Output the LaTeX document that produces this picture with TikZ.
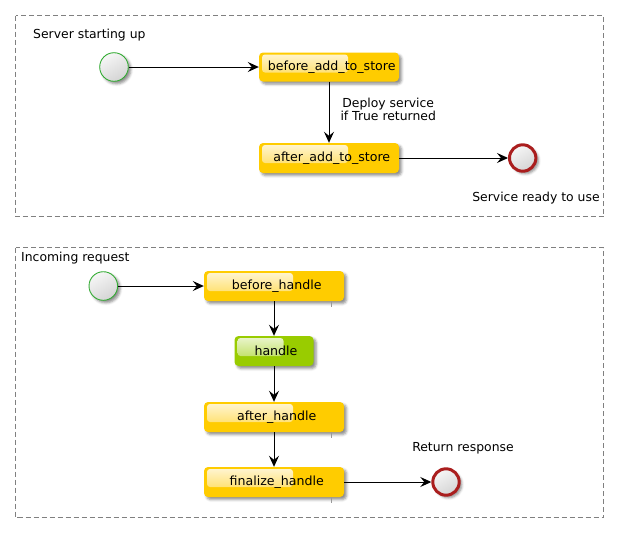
\documentclass[tikz,border=0pt]{standalone}
\usepackage{fontspec}
\setmainfont{DejaVu Sans}
\usetikzlibrary{arrows.meta,shadows.blur}
\definecolor{boxgold}{RGB}{255,204,0}
\definecolor{boxgreen}{RGB}{153,204,0}
\definecolor{startgreen}{RGB}{52,172,52}
\definecolor{endred}{RGB}{170,30,30}
\definecolor{groupgray}{RGB}{128,128,128}
\begin{document}
\begin{tikzpicture}[x=1pt,y=-1pt,
  font=\fontsize{12.4}{13.4}\selectfont,
  grp/.style={draw=groupgray,line width=0.8pt,dash pattern=on 5pt off 3pt},
  sh/.style={blur shadow={shadow xshift=2.5pt,shadow yshift=-2.5pt,shadow blur radius=2.5pt,shadow opacity=45}},
  actbox/.style={rectangle,rounded corners=4pt,fill=boxgold,minimum width=140pt,minimum height=30pt,inner sep=0pt,sh,
     font=\fontsize{12.6}{14}\selectfont,execute at begin node={\hspace*{5.5pt}},
     path picture={\shade[rounded corners=3pt,top color={rgb,255:red,255;green,246;blue,215},bottom color={rgb,255:red,255;green,216;blue,70}]
       ([xshift=3pt,yshift=-2pt]path picture bounding box.north west) rectangle ++(86,18);}},
  greenbox/.style={rectangle,rounded corners=4pt,fill=boxgreen,minimum width=79pt,minimum height=30pt,inner sep=0pt,sh,
     font=\fontsize{12.6}{14}\selectfont,execute at begin node={\hspace*{4pt}},
     path picture={\shade[rounded corners=3pt,top color={rgb,255:red,236;green,246;blue,210},bottom color={rgb,255:red,176;green,216;blue,60}]
       ([xshift=3pt,yshift=-2pt]path picture bounding box.north west) rectangle ++(46,18);}},
  startnode/.style={circle,draw=startgreen,line width=0.9pt,minimum size=28.6pt,inner sep=0pt,sh,
     top color={rgb,255:red,246;green,246;blue,246},bottom color={rgb,255:red,212;green,212;blue,212},shading angle=30},
  endnode/.style={circle,draw=endred,line width=3pt,minimum size=26.4pt,inner sep=0pt,sh,
     top color={rgb,255:red,246;green,246;blue,246},bottom color={rgb,255:red,212;green,212;blue,212},shading angle=30},
  flow/.style={line width=1pt,-{Stealth[length=11pt,width=10pt,inset=4pt]}},
  tick/.style={draw=gray!80,line width=0.8pt}
]
\useasboundingbox (0,0) rectangle (619,533);

% group frames
\draw[grp] (15.5,15.5) rectangle (603.5,216.5);
\draw[grp] (15.5,247.5) rectangle (603.5,517.5);
\node[anchor=base west,inner sep=0pt] (g1label) at (33,38) {Server starting up};
\node[anchor=base west,inner sep=0pt] (g2label) at (21,261.5) {Incoming request};

% group 1
\node[startnode] (s1) at (114,67) {};
\node[actbox,minimum height=29pt] (bas) at (329,67) {before\_add\_to\_store};
\node[actbox] (aas) at (329,158) {after\_add\_to\_store};
\node[endnode] (e1) at (522.7,158) {};
\node[anchor=base,inner sep=0pt] (e1label) at (536,201.7) {Service ready to use};

\draw[flow] (s1) -- (bas);
\draw[flow] (bas) -- node[midway,anchor=west,xshift=11pt,yshift=3pt,align=center,inner sep=0pt,font=\fontsize{12.4}{13.5}\selectfont] (deploy) {Deploy service\\if True returned} (aas);
\draw[flow] (aas) -- (e1);

% group 2
\node[startnode] (s2) at (103.3,286) {};
\node[actbox] (bh) at (274,286) {before\_handle};
\node[greenbox] (h) at (274,351) {handle};
\node[actbox] (ah) at (274,417) {after\_handle};
\node[actbox] (fh) at (274,482) {finalize\_handle};
\node[endnode] (e2) at (446,482) {};
\node[anchor=base,inner sep=0pt] (e2label) at (463,451.4) {Return response};

\draw[tick] ([xshift=57pt]bh.south) -- ++(0,6);
\draw[tick] ([xshift=57pt]ah.south) -- ++(0,6);
\draw[tick] ([xshift=57pt]fh.south) -- ++(0,6);

\draw[flow] (s2) -- (bh);
\draw[flow] (bh) -- (h);
\draw[flow] (h) -- (ah);
\draw[flow] (ah) -- (fh);
\draw[flow] (fh) -- (e2);
\end{tikzpicture}
\end{document}
